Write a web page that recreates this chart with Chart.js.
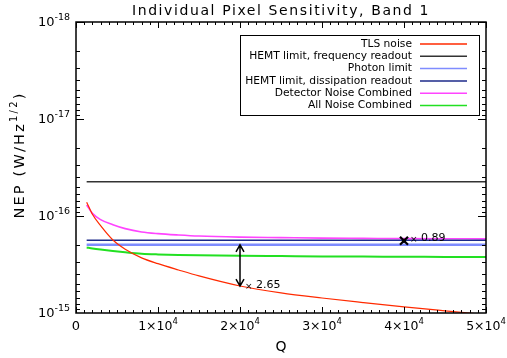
<!DOCTYPE html>
<html>
<head>
<meta charset="utf-8">
<script src="https://cdn.jsdelivr.net/npm/chart.js@4"></script>
<style>
  html, body { margin: 0; padding: 0; background: #fff; }
</style>
</head>
<body>
<canvas id="nepChart" width="507" height="358"></canvas>
<script>
// Data
const qValues   = [1300, 2000, 3000, 4500, 6000, 8000, 10000, 12500, 15000, 20000, 25000, 30000, 35000, 40000, 45000, 50000];
const tlsNoise  = [7.2e-17, 9.6e-17, 1.26e-16, 1.77e-16, 2.2e-16, 2.7e-16, 3.1e-16, 3.6e-16, 4.15e-16, 5.27e-16, 6.2e-16, 7.0e-16, 7.8e-16, 8.65e-16, 9.5e-16, 1.04e-15];
const detectorCombined = [7.7e-17, 9.4e-17, 1.09e-16, 1.23e-16, 1.35e-16, 1.46e-16, 1.52e-16, 1.57e-16, 1.61e-16, 1.65e-16, 1.67e-16, 1.69e-16, 1.70e-16, 1.71e-16, 1.715e-16, 1.72e-16];
const allCombined = [2.11e-16, 2.16e-16, 2.22e-16, 2.3e-16, 2.37e-16, 2.45e-16, 2.49e-16, 2.52e-16, 2.54e-16, 2.57e-16, 2.59e-16, 2.61e-16, 2.62e-16, 2.63e-16, 2.64e-16, 2.65e-16];
const hemtFreq = 4.43e-17;
const photonLimit = 1.98e-16;
const hemtDiss = 1.78e-16;

// annotations
const arrowQ = 20000;
const arrowLabel = '2.65';
const markQ = 40000;
const markNEP = 1.8e-16;
const markLabel = '0.89';

// axis ticks
const xMajor = [0, 10000, 20000, 30000, 40000, 50000];
const xMajorLabels = ['0', '1×10', '2×10', '3×10', '4×10', '5×10'];
const yDecades = [-18, -17, -16, -15];

const fontFam = '"DejaVu Sans", sans-serif';

function toPoints(vals) {
    return vals.map((v, i) => ({ x: qValues[i], y: v }));
}
function flat(v) {
    return [{ x: qValues[0], y: v }, { x: qValues[qValues.length - 1], y: v }];
}

// text with a superscript after it (and optional text after that)
function supText(ctx, x, y, base, sup, baseSize, supSize, align, tail) {
    tail = tail || '';
    ctx.font = baseSize + 'px ' + fontFam;
    const wb = ctx.measureText(base).width;
    const wt = ctx.measureText(tail).width;
    ctx.font = supSize + 'px ' + fontFam;
    const ws = ctx.measureText(sup).width;
    let x0 = x;
    if (align === 'right') x0 = x - wb - ws - wt;
    else if (align === 'center') x0 = x - (wb + ws + wt) / 2;
    ctx.textAlign = 'left';
    ctx.textBaseline = 'middle';
    ctx.font = baseSize + 'px ' + fontFam;
    ctx.fillText(base, x0, y);
    if (tail) ctx.fillText(tail, x0 + wb + ws, y);
    ctx.font = supSize + 'px ' + fontFam;
    ctx.fillText(sup, x0 + wb, y - baseSize * 0.4);
}

const datasets = [
    { label: 'TLS noise', data: toPoints(tlsNoise), borderColor: '#ff2a00', borderWidth: 1.2 },
    { label: 'HEMT limit, frequency readout', data: flat(hemtFreq), borderColor: '#333333', borderWidth: 1.6 },
    { label: 'Photon limit', data: flat(photonLimit), borderColor: '#7f8cff', borderWidth: 2.4 },
    { label: 'HEMT limit, dissipation readout', data: flat(hemtDiss), borderColor: '#1c2a8a', borderWidth: 1.6 },
    { label: 'Detector Noise Combined', data: toPoints(detectorCombined), borderColor: '#ff44ff', borderWidth: 1.6 },
    { label: 'All Noise Combined', data: toPoints(allCombined), borderColor: '#22e022', borderWidth: 2 }
];

// Frame, ticks and labels in the IDL style (ticks pointing inward)
const framePlugin = {
    id: 'frame',
    afterDraw(chart) {
        const ctx = chart.ctx;
        const a = chart.chartArea;
        const xs = chart.scales.x;
        const ys = chart.scales.y;
        ctx.save();
        ctx.strokeStyle = '#000';
        ctx.fillStyle = '#000';
        ctx.lineWidth = 1.5;
        ctx.strokeRect(a.left, a.top, a.right - a.left, a.bottom - a.top);

        ctx.lineWidth = 1;
        ctx.beginPath();
        for (let v = 0; v <= 50000; v += 1000) {
            const px = Math.round(xs.getPixelForValue(v)) + 0.5;
            const len = v % 10000 === 0 ? 6 : 3;
            ctx.moveTo(px, a.bottom); ctx.lineTo(px, a.bottom - len);
            ctx.moveTo(px, a.top); ctx.lineTo(px, a.top + len);
        }
        for (let d = -18; d < -15; d++) {
            for (let m = 1; m <= 9; m++) {
                const py = Math.round(ys.getPixelForValue(m * Math.pow(10, d))) + 0.5;
                const len = m === 1 ? 8 : 4;
                ctx.moveTo(a.left, py); ctx.lineTo(a.left + len, py);
                ctx.moveTo(a.right, py); ctx.lineTo(a.right - len, py);
            }
        }
        ctx.stroke();

        // tick labels
        xMajor.forEach((v, i) => {
            const px = xs.getPixelForValue(v);
            if (v === 0) {
                ctx.font = '13px ' + fontFam;
                ctx.textAlign = 'center';
                ctx.textBaseline = 'middle';
                ctx.fillText(xMajorLabels[i], px, 327);
            } else {
                supText(ctx, px, 327, xMajorLabels[i], '4', 12.5, 8.5, 'center');
            }
        });
        yDecades.forEach(d => {
            const py = ys.getPixelForValue(Math.pow(10, d));
            supText(ctx, 70, py + 1, '10', '-' + Math.abs(d), 13, 9.5, 'right');
        });

        // axis titles
        ctx.font = '14px ' + fontFam;
        ctx.textAlign = 'center';
        ctx.textBaseline = 'middle';
        ctx.fillText('Q', (a.left + a.right) / 2, 347);
        ctx.save();
        ctx.letterSpacing = '1.6px';
        ctx.fillText('Individual Pixel Sensitivity, Band 1', (a.left + a.right) / 2, 11);
        ctx.restore();

        ctx.save();
        ctx.translate(20, 155);
        ctx.rotate(-Math.PI / 2);
        ctx.letterSpacing = '2.2px';
        supText(ctx, 0, 0, 'NEP (W/Hz', '1/2', 14.5, 10, 'center', ')');
        ctx.restore();

        // arrow from photon limit to TLS noise at arrowQ
        const ax = xs.getPixelForValue(arrowQ);
        const ay1 = ys.getPixelForValue(photonLimit);
        const ay2 = ys.getPixelForValue(tlsNoise[qValues.indexOf(arrowQ)]);
        ctx.lineWidth = 1.5;
        ctx.beginPath();
        ctx.moveTo(ax, ay1); ctx.lineTo(ax, ay2);
        ctx.moveTo(ax - 4, ay1 + 7); ctx.lineTo(ax, ay1); ctx.lineTo(ax + 4, ay1 + 7);
        ctx.moveTo(ax - 4, ay2 - 7); ctx.lineTo(ax, ay2); ctx.lineTo(ax + 4, ay2 - 7);
        ctx.stroke();
        ctx.textAlign = 'left';
        ctx.textBaseline = 'middle';
        ctx.font = '9px ' + fontFam;
        ctx.fillText('×', ax + 5, ay2 + 1);
        ctx.font = '11px ' + fontFam;
        ctx.fillText(arrowLabel, ax + 16, ay2 - 1);

        // marker and its ratio
        const mx = xs.getPixelForValue(markQ);
        const my = ys.getPixelForValue(markNEP);
        ctx.lineWidth = 2.2;
        ctx.beginPath();
        ctx.moveTo(mx - 4, my - 4); ctx.lineTo(mx + 4, my + 4);
        ctx.moveTo(mx - 4, my + 4); ctx.lineTo(mx + 4, my - 4);
        ctx.stroke();
        ctx.fillRect(mx - 2, my - 2, 4, 4);
        ctx.font = '9px ' + fontFam;
        ctx.fillText('×', mx + 6, my - 1);
        ctx.font = '11px ' + fontFam;
        ctx.fillText(markLabel, mx + 17, my - 3);

        // legend box
        ctx.fillStyle = '#fff';
        ctx.fillRect(240, 35, 239, 80);
        ctx.lineWidth = 1;
        ctx.strokeStyle = '#000';
        ctx.strokeRect(240.5, 35.5, 239, 80);
        ctx.font = '10.7px ' + fontFam;
        ctx.textAlign = 'right';
        ctx.textBaseline = 'middle';
        chart.data.datasets.forEach((ds, i) => {
            const ry = 44 + i * 12.3;
            ctx.fillStyle = '#000';
            ctx.fillText(ds.label, 412, ry);
            ctx.strokeStyle = ds.borderColor;
            ctx.lineWidth = 1.5;
            ctx.beginPath();
            ctx.moveTo(420, ry); ctx.lineTo(467, ry);
            ctx.stroke();
        });
        ctx.restore();
    }
};

const ctx = document.getElementById('nepChart').getContext('2d');
const chart = new Chart(ctx, {
    type: 'line',
    data: { datasets: datasets },
    options: {
        responsive: false,
        animation: false,
        layout: { padding: { left: 76, right: 21, top: 22, bottom: 45 } },
        elements: {
            point: { radius: 0 },
            line: { cubicInterpolationMode: 'monotone', fill: false }
        },
        datasets: { line: { clip: 0 } },
        scales: {
            x: { type: 'linear', min: 0, max: 50000, display: false },
            y: { type: 'logarithmic', min: 1e-18, max: 1e-15, reverse: true, display: false }
        },
        plugins: {
            legend: { display: false },
            tooltip: { enabled: false }
        }
    },
    plugins: [framePlugin]
});
</script>
</body>
</html>
